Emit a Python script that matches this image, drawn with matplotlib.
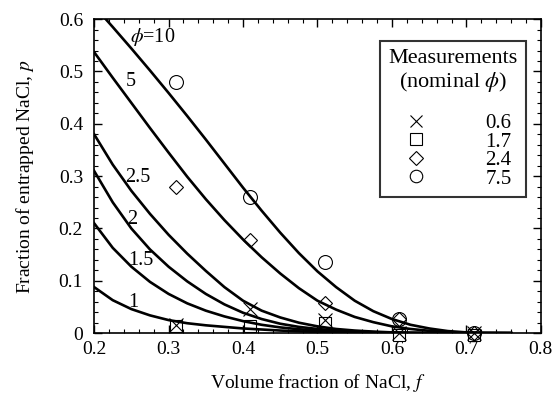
import numpy as np
import matplotlib.pyplot as plt

plt.rcParams['font.family'] = ['Liberation Serif', 'DejaVu Serif']
plt.rcParams['mathtext.fontset'] = 'stix'

# model curves p(f) for several phi
f_curve = [0.2, 0.225, 0.25, 0.275, 0.3, 0.325, 0.35, 0.375, 0.4, 0.425, 0.45, 0.475,
           0.5, 0.525, 0.55, 0.575, 0.6, 0.625, 0.65, 0.675, 0.7, 0.725, 0.76]
curves = {
    '10': [0.625, 0.585, 0.544, 0.502, 0.459, 0.415, 0.370, 0.324, 0.278, 0.234, 0.192, 0.153,
           0.118, 0.088, 0.062, 0.042, 0.027, 0.016, 0.009, 0.004, 0.0015, 0.0004, 0.0],
    '5': [0.537, 0.488, 0.440, 0.392, 0.345, 0.299, 0.256, 0.216, 0.179, 0.145, 0.114, 0.086,
          0.062, 0.045, 0.031, 0.021, 0.013, 0.008, 0.0045, 0.002, 0.0008, 0.0002, 0.0],
    '2.5': [0.380, 0.322, 0.272, 0.228, 0.188, 0.152, 0.119, 0.088, 0.062, 0.043, 0.030, 0.020,
            0.013, 0.008, 0.005, 0.003, 0.0015, 0.0007, 0.0003, 0.0001, 0.0, 0.0, 0.0],
    '2': [0.310, 0.250, 0.200, 0.160, 0.127, 0.099, 0.075, 0.055, 0.039, 0.027, 0.018, 0.012,
          0.008, 0.005, 0.003, 0.0018, 0.001, 0.0005, 0.0002, 0.0001, 0.0, 0.0, 0.0],
    '1.5': [0.210, 0.163, 0.127, 0.098, 0.075, 0.057, 0.043, 0.032, 0.023, 0.016, 0.011, 0.0075,
            0.005, 0.003, 0.002, 0.0012, 0.0007, 0.0003, 0.0001, 0.0, 0.0, 0.0, 0.0],
    '1': [0.088, 0.063, 0.046, 0.034, 0.025, 0.019, 0.015, 0.012, 0.009, 0.007, 0.005, 0.0035,
          0.0025, 0.0015, 0.001, 0.0006, 0.0003, 0.0001, 0.0, 0.0, 0.0, 0.0, 0.0],
}
curve_labels = ['$\\phi$=10', '5', '2.5', '2', '1.5', '1']
label_f = [0.278, 0.249, 0.258, 0.251, 0.263, 0.252]
label_p = [0.566, 0.480, 0.298, 0.218, 0.138, 0.059]

# measurements
f_meas = [0.31, 0.41, 0.51, 0.61, 0.71]
p_06 = [0.015, 0.046, 0.025, 0.001, 0.0]
p_17 = [0.013, 0.014, 0.020, -0.004, -0.003]
p_24 = [0.28, 0.178, 0.057, 0.027, 0.0]
p_75 = [0.48, 0.26, 0.136, 0.028, 0.0]

xticks = [0.2, 0.3, 0.4, 0.5, 0.6, 0.7, 0.8]
xticklabels = ['0.2', '0.3', '0.4', '0.5', '0.6', '0.7', '0.8']
yticks = [0, 0.1, 0.2, 0.3, 0.4, 0.5, 0.6]
yticklabels = ['0', '0.1', '0.2', '0.3', '0.4', '0.5', '0.6']

fig = plt.figure(figsize=(5.57, 3.99), dpi=100)
ax = fig.add_axes([0.169, 0.165, 0.802, 0.787])

for p in curves.values():
    ax.plot(f_curve, p, color='black', linewidth=1.9)
for txt, fx, py in zip(curve_labels, label_f, label_p):
    ax.text(fx, py, txt, fontsize=14.5, ha='center', va='center')

mk = dict(linestyle='none', markerfacecolor='none', markeredgecolor='black',
          markeredgewidth=0.8, clip_on=False)
h1, = ax.plot(f_meas, p_06, marker='x', markersize=10, label='0.6', **mk)
h2, = ax.plot(f_meas, p_17, marker='s', markersize=9, label='1.7', **mk)
h3, = ax.plot(f_meas, p_24, marker='D', markersize=7.5, label='2.4', **mk)
h4, = ax.plot(f_meas, p_75, marker='o', markersize=10, label='7.5', **mk)

ax.set_xlim(0.2, 0.8)
ax.set_ylim(0, 0.6)
ax.set_xticks(xticks)
ax.set_xticklabels(xticklabels)
ax.set_yticks(yticks)
ax.set_yticklabels(yticklabels)
ax.set_xticks(np.arange(0.2, 0.8001, 0.02), minor=True)
ax.set_yticks(np.arange(0, 0.6001, 0.02), minor=True)
ax.tick_params(which='both', direction='in', top=True, right=True, labelsize=14)
ax.tick_params(which='major', length=6, width=1)
ax.tick_params(which='minor', length=3, width=0.8)
ax.tick_params(axis='x', pad=6)
ax.tick_params(axis='y', pad=8)
for s in ax.spines.values():
    s.set_linewidth(1.2)

ax.set_xlabel('Volume fraction of NaCl, $f$', fontsize=14, labelpad=10)
ax.set_ylabel('Fraction of entrapped NaCl, $p$', fontsize=14, labelpad=16)

leg = ax.legend(handles=[h1, h2, h3, h4], title='Measurements\n(nominal $\\phi$)\n',
                loc='upper right', bbox_to_anchor=(0.966, 0.930), borderaxespad=0,
                fontsize=15, title_fontsize=16, frameon=True, fancybox=False,
                handlelength=2.1, handletextpad=2.3, labelspacing=-0.05,
                borderpad=0.4, markerscale=0.9)
leg.get_title().set_multialignment('center')
leg.get_title().set_linespacing(1.1)
leg.get_frame().set_edgecolor('black')
leg.get_frame().set_linewidth(1.5)

fig.savefig('out.png', dpi=100)
